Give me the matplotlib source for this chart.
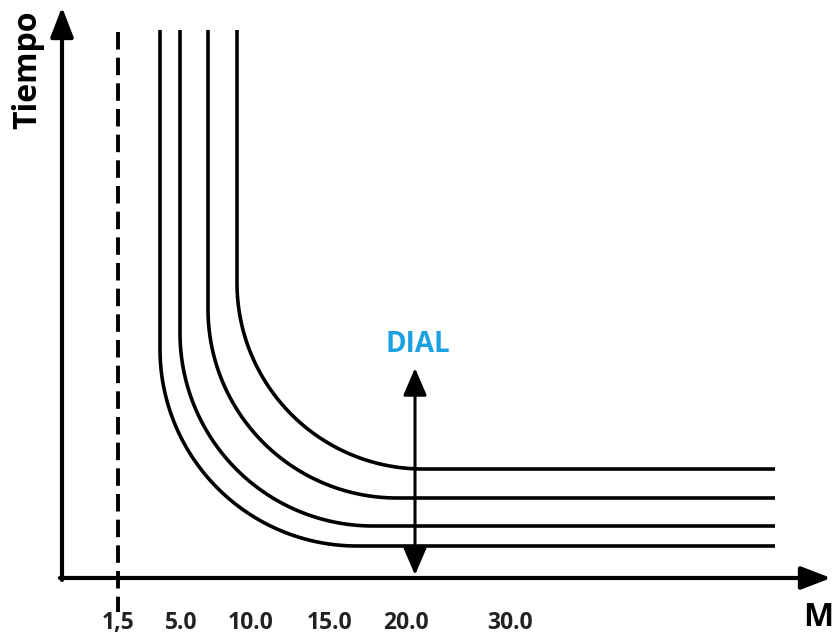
import numpy as np
import matplotlib
matplotlib.use('Agg')
import matplotlib.pyplot as plt

plt.rcParams['font.family'] = ['Open Sans', 'DejaVu Sans']

# curves: vertical x position, horizontal level, bend radius (figure pixel units)
vert_x = [160, 180, 208, 237]
level_y = [546, 526, 498, 469]
bend_r = [197, 193, 189, 186]
top_y = 30
end_x = 775

# dashed reference line at 1,5
dash_x = 118

tick_pos = [118, 181, 251, 329, 406, 510]
tick_labels = ['1,5', '5.0', '10.0', '15.0', '20.0', '30.0']

dial_x = 415
dial_y = [575, 368]

H = 639

fig = plt.figure(figsize=(8.35, 6.39), dpi=100)
ax = fig.add_axes([0, 0, 1, 1])
ax.set_xlim(0, 835)
ax.set_ylim(0, H)
ax.axis('off')

def fy(y):
    return H - np.asarray(y)

# the curves
for x0, yl, r in zip(vert_x, level_y, bend_r):
    t = np.linspace(np.pi, 1.5 * np.pi, 80)
    cx, cy = x0 + r, yl - r  # pixel coords, y down
    arc_x = cx + r * np.cos(t)
    arc_y = cy - r * np.sin(t)
    xs = np.concatenate([[x0], arc_x, [end_x]])
    ys = np.concatenate([[top_y], arc_y, [yl]])
    ax.plot(xs, fy(ys), color='black', lw=2.6, solid_capstyle='butt')

# dashed line
ax.plot([dash_x, dash_x], fy([32, 612]), color='black', lw=2.8,
        dashes=(4.5, 2.1))

# axes with arrows
arrow_kw = dict(arrowstyle='-|>,head_length=1.3,head_width=0.5', lw=3,
                color='black', mutation_scale=14, shrinkA=0, shrinkB=0)
ax.annotate('', xy=(62, fy(7)), xytext=(62, fy(580)), arrowprops=arrow_kw)
ax.annotate('', xy=(831, fy(578)), xytext=(60, fy(578)), arrowprops=arrow_kw)

# DIAL arrow
ax.annotate('', xy=(dial_x, fy(dial_y[1])), xytext=(dial_x, fy(dial_y[0])),
            arrowprops=dict(arrowstyle='<|-|>,head_length=1.4,head_width=0.6',
                            lw=2.2, color='black', mutation_scale=12,
                            shrinkA=0, shrinkB=0))
ax.text(418, fy(345), 'DIAL', color='#1BA1E2', fontsize=20, fontweight='bold',
        ha='center', va='center')

# tick labels
for x, lab in zip(tick_pos, tick_labels):
    ax.text(x, fy(623), lab, fontsize=16.5, fontweight='bold', ha='center',
            va='center', color='#222222')

ax.text(28, fy(70), 'Tiempo', fontsize=23, fontweight='bold', rotation=90,
        ha='center', va='center')
ax.text(818, fy(618), 'M', fontsize=23, fontweight='bold', ha='center',
        va='center')

fig.savefig('out.png', dpi=100)
